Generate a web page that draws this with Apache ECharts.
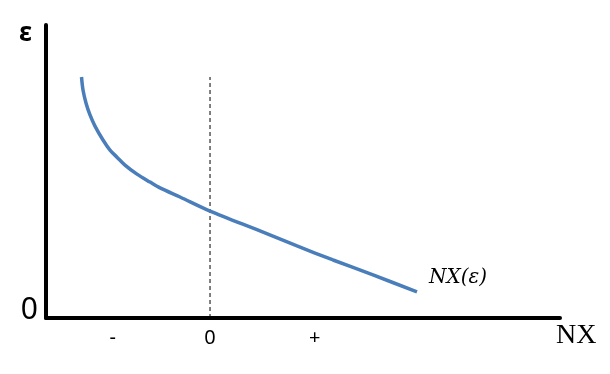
<!DOCTYPE html>
<html><head><meta charset="utf-8">
<script src="https://cdn.jsdelivr.net/npm/echarts@6/dist/echarts.min.js"></script>
<style>html,body{margin:0;padding:0;background:#fff}#c{width:610px;height:374px}</style>
</head><body><div id="c"></div>
<script>
// Curve NX(ε): x = net exports (abstract units), y = real exchange rate ε
var curveX = [6.91, 7.20, 7.78, 8.56, 9.53, 11.09, 12.45, 13.81, 15.37, 17.70, 20.23, 22.18, 26.07, 31.91, 41.63, 48.83, 55.84, 63.62, 72.18];
var curveY = [82.25, 77.8, 73.4, 69.3, 65.5, 60.75, 57.3, 54.9, 52.2, 49.1, 46.4, 44.4, 41.3, 36.5, 29.7, 24.6, 19.8, 14.7, 8.9];
var xTickValues = [13.0, 31.9, 52.3];
var xTickLabels = ['-', '0', '+'];
var zeroLineX = 31.91;
var zeroLineTop = 82.25;
var curveName = 'NX(ε)';

var chart = echarts.init(document.getElementById('c'), null, {renderer: 'canvas'});
var data = curveX.map(function (x, i) { return [x, curveY[i]]; });
chart.setOption({
  animation: false,
  grid: {left: 46, right: 50, top: 25, bottom: 56, containLabel: false},
  xAxis: {
    type: 'value', min: 0, max: 100,
    name: 'NX', nameLocation: 'end', nameGap: -4,
    nameTextStyle: {fontFamily: 'Liberation Serif', fontSize: 28, color: '#000', align: 'left', verticalAlign: 'top', padding: [4, 0, 0, 0]},
    axisLine: {show: true, onZero: false, lineStyle: {color: '#000', width: 4}},
    axisTick: {show: false},
    splitLine: {show: false},
    axisLabel: {
      customValues: xTickValues,
      formatter: function (v) { var i = xTickValues.indexOf(v); return i >= 0 ? xTickLabels[i] : ''; },
      fontFamily: 'Noto Sans', fontSize: 20, color: '#000', margin: 10
    }
  },
  yAxis: {
    type: 'value', min: 0, max: 100,
    name: 'ε', nameLocation: 'end', nameGap: -22,
    nameTextStyle: {fontFamily: 'Noto Sans', fontSize: 26, fontWeight: 'bold', color: '#000', align: 'right', padding: [0, 14, 0, 0]},
    axisLine: {show: true, onZero: false, lineStyle: {color: '#000', width: 4}},
    axisTick: {show: false},
    splitLine: {show: false},
    axisLabel: {
      customValues: [0],
      formatter: function () { return '0'; },
      fontFamily: 'Noto Sans', fontSize: 30, color: '#000', margin: 8,
      verticalAlign: 'bottom', lineHeight: 16
    }
  },
  series: [
    {
      type: 'line', data: data, smooth: 0.3, showSymbol: false,
      lineStyle: {color: '#4a7ebb', width: 3.5},
      endLabel: {
        show: true, formatter: curveName, offset: [4, -14],
        fontFamily: 'DejaVu Serif', fontStyle: 'italic', fontSize: 20, color: '#000'
      }
    },
    {
      type: 'line', data: [[zeroLineX, 0], [zeroLineX, zeroLineTop]], showSymbol: false,
      lineStyle: {color: '#000', width: 1, type: [4, 3]}, z: 1
    }
  ]
});
</script></body></html>
